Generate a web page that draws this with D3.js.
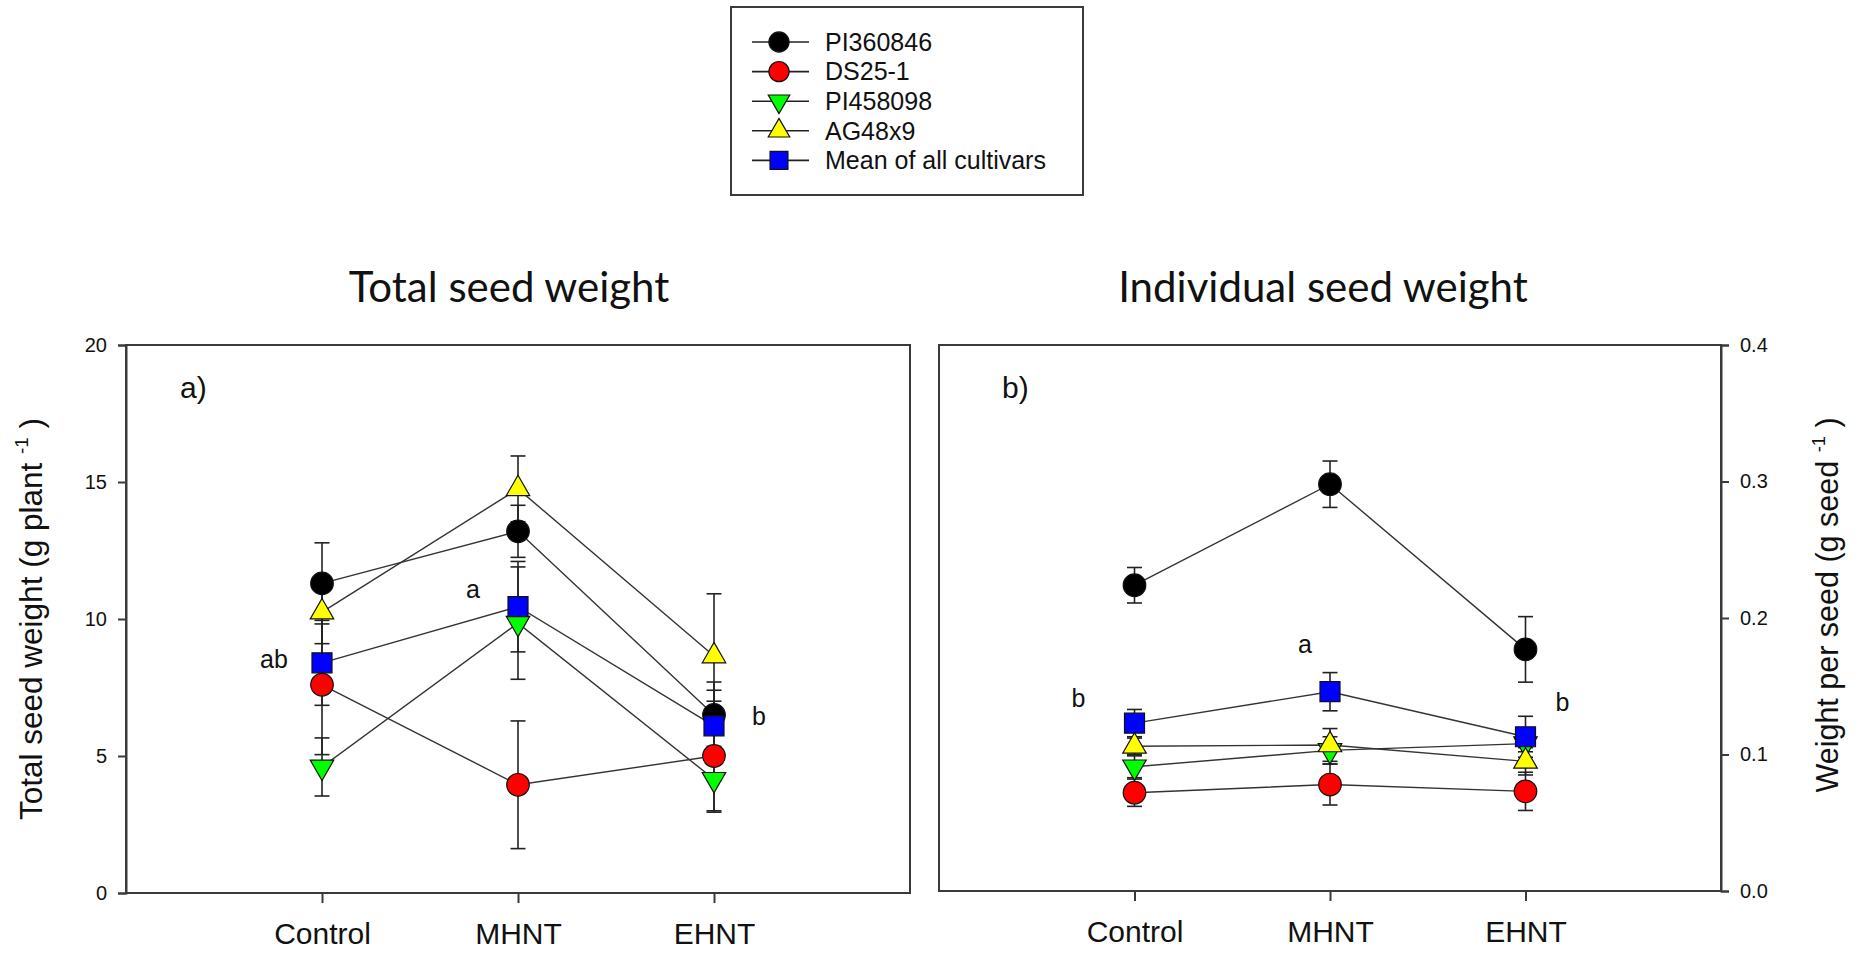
<!DOCTYPE html>
<html>
<head>
<meta charset="utf-8">
<script src="https://cdn.jsdelivr.net/npm/d3@7"></script>
<style>
  html, body { margin: 0; padding: 0; background: #fff; }
  svg { display: block; }
  text { font-family: "Liberation Sans", Arial, sans-serif; fill: #111; }
</style>
</head>
<body>
<svg id="chart" width="1870" height="955"></svg>
<script>
// Treatments on the x axis
const categories = ["Control", "MHNT", "EHNT"];

// Cultivars (last entry is the mean across cultivars)
const seriesNames = ["PI360846", "DS25-1", "PI458098", "AG48x9", "Mean of all cultivars"];
const seriesColors = ["#000000", "#ff0000", "#00ff00", "#ffff00", "#0000ff"];
const seriesSymbols = ["circle", "circle", "triangleDown", "triangleUp", "square"];

// Total seed weight (g plant-1), one row per cultivar, columns follow categories
const totalSeedWeight = [
  [11.3, 13.2, 6.5],
  [7.6, 3.95, 5.0],
  [4.6, 9.85, 4.15],
  [10.25, 14.75, 8.65],
  [8.4, 10.45, 6.1]
];
const totalSeedSE = [
  [1.48, 0.95, 1.2],
  [2.55, 2.33, 2.0],
  [1.06, 2.05, 1.2],
  [1.15, 1.2, 2.27],
  [1.55, 1.65, 1.3]
];

// Individual seed weight (g seed-1)
const seedWeight = [
  [0.224, 0.298, 0.177],
  [0.072, 0.078, 0.073],
  [0.091, 0.103, 0.108],
  [0.106, 0.107, 0.095],
  [0.123, 0.146, 0.113]
];
const seedSE = [
  [0.013, 0.017, 0.024],
  [0.010, 0.015, 0.014],
  [0.008, 0.010, 0.006],
  [0.006, 0.012, 0.010],
  [0.010, 0.014, 0.015]
];

// Axis ticks
const totalTicks = [0, 5, 10, 15, 20];
const seedTicks = [0.0, 0.1, 0.2, 0.3, 0.4];

// Mean-separation letters: [treatment index, letter, value used for vertical placement]
const totalLetters = [[0, "ab", 8.2], [1, "a", 10.77], [2, "b", 6.13]];
const seedLetters = [[0, "b", 0.1348], [1, "a", 0.1744], [2, "b", 0.1319]];

// Draw order of the series (back to front)
const drawOrder = [0, 2, 1, 3, 4];

const svg = d3.select("#chart");
svg.append("rect").attr("width", 1870).attr("height", 955).attr("fill", "#fff");

const AXIS = "#3a3a3a";

function symbolPath(kind) {
  if (kind === "circle") return d3.symbol(d3.symbolCircle, 400)();
  if (kind === "square") return d3.symbol(d3.symbolSquare, 400)();
  return d3.symbol(d3.symbolTriangle, 240)();
}

function drawMarker(g, kind, x, y, color) {
  g.append("path")
    .attr("d", symbolPath(kind))
    .attr("transform", `translate(${x},${y})` + (kind === "triangleDown" ? " rotate(180)" : ""))
    .attr("fill", color)
    .attr("stroke", "#111")
    .attr("stroke-width", 1.2);
}

function drawPanel(opts) {
  const { left, right, top, bottom, values, errors, ticks, tickFormat, yAxisSide, letters, letterOffsets, panelLabel, title, titleX } = opts;
  const x = d3.scaleLinear().domain([0, 4]).range([left, right]);
  const y = d3.scaleLinear().domain([ticks[0], ticks[ticks.length - 1]]).range([bottom, top]);
  const g = svg.append("g");

  // frame
  g.append("rect")
    .attr("x", left).attr("y", top)
    .attr("width", right - left).attr("height", bottom - top)
    .attr("fill", "none").attr("stroke", AXIS).attr("stroke-width", 2);

  // value axis
  const yAxis = (yAxisSide === "left" ? d3.axisLeft(y) : d3.axisRight(y))
    .tickValues(ticks).tickFormat(tickFormat).tickSize(8).tickPadding(11);
  const ya = g.append("g")
    .attr("transform", `translate(${yAxisSide === "left" ? left : right},0)`)
    .call(yAxis);
  ya.select(".domain").attr("stroke", AXIS).attr("stroke-width", 2);
  ya.selectAll(".tick line").attr("stroke", AXIS).attr("stroke-width", 2);
  ya.selectAll(".tick text").attr("font-size", 20).attr("font-family", "Liberation Sans, Arial, sans-serif").attr("fill", "#222");

  // category axis
  const xAxis = d3.axisBottom(x).tickValues([1, 2, 3]).tickFormat(d => categories[d - 1])
    .tickSize(10).tickPadding(20);
  const xa = g.append("g").attr("transform", `translate(0,${bottom})`).call(xAxis);
  xa.select(".domain").remove();
  xa.selectAll(".tick line").attr("stroke", AXIS).attr("stroke-width", 2);
  xa.selectAll(".tick text").attr("font-size", 30).attr("font-family", "Liberation Sans, Arial, sans-serif").attr("fill", "#111");

  // error bars
  drawOrder.forEach(s => {
    values[s].forEach((v, i) => {
      const cx = x(i + 1);
      const e = errors[s][i];
      const y1 = y(v + e), y2 = y(v - e);
      g.append("line").attr("x1", cx).attr("x2", cx).attr("y1", y1).attr("y2", y2)
        .attr("stroke", "#222").attr("stroke-width", 1.6);
      [y1, y2].forEach(yy => g.append("line")
        .attr("x1", cx - 7.5).attr("x2", cx + 7.5).attr("y1", yy).attr("y2", yy)
        .attr("stroke", "#222").attr("stroke-width", 1.6));
    });
  });

  // connecting lines
  const line = d3.line().x((d, i) => x(i + 1)).y(d => y(d));
  drawOrder.forEach(s => {
    g.append("path").attr("d", line(values[s]))
      .attr("fill", "none").attr("stroke", "#333").attr("stroke-width", 1.4);
  });

  // markers
  drawOrder.forEach(s => {
    values[s].forEach((v, i) => drawMarker(g, seriesSymbols[s], x(i + 1), y(v), seriesColors[s]));
  });

  // letters
  letters.forEach(([ci, txt, v], k) => {
    g.append("text")
      .attr("x", x(ci + 1) + letterOffsets[k]).attr("y", y(v))
      .attr("text-anchor", "middle").attr("font-size", 25)
      .text(txt);
  });

  // panel label
  g.append("text").attr("x", panelLabel.x).attr("y", 398)
    .attr("font-size", 30).text(panelLabel.text);

  // title
  svg.append("text").attr("x", titleX).attr("y", 302)
    .attr("text-anchor", "middle")
    .style("font-family", "Lato, 'Open Sans', sans-serif")
    .attr("font-size", 42)
    .text(title);

  return { x, y };
}

drawPanel({
  left: 126, right: 910, top: 345, bottom: 893,
  values: totalSeedWeight, errors: totalSeedSE,
  ticks: totalTicks, tickFormat: d3.format("d"),
  yAxisSide: "left",
  letters: totalLetters, letterOffsets: [-48, -45, 45],
  panelLabel: { x: 180, text: "a)" },
  title: "Total seed weight", titleX: 509
});

drawPanel({
  left: 939, right: 1721, top: 345, bottom: 891,
  values: seedWeight, errors: seedSE,
  ticks: seedTicks, tickFormat: d3.format(".1f"),
  yAxisSide: "right",
  letters: seedLetters, letterOffsets: [-56, -25, 37],
  panelLabel: { x: 1002, text: "b)" },
  title: "Individual seed weight", titleX: 1323
});

// axis titles with superscript exponent
function axisTitle(cx, cy, main, unit, size) {
  const t = svg.append("text")
    .attr("transform", `translate(${cx},${cy}) rotate(-90)`)
    .attr("text-anchor", "middle").attr("font-size", size);
  t.append("tspan").text(main + " (g " + unit + " ");
  t.append("tspan").attr("font-size", size * 0.6).attr("dy", -size * 0.43).text("-1");
  t.append("tspan").attr("dy", size * 0.43).text(" )");
}
axisTitle(42, 619, "Total seed weight", "plant", 31.5);
axisTitle(1838, 605, "Weight per seed", "seed", 30.5);

// legend
const lg = svg.append("g");
lg.append("rect").attr("x", 731).attr("y", 7).attr("width", 352).attr("height", 188)
  .attr("fill", "#fff").attr("stroke", AXIS).attr("stroke-width", 2);
seriesNames.forEach((name, i) => {
  const cy = 42 + i * 29.6;
  lg.append("line").attr("x1", 752).attr("x2", 809).attr("y1", cy).attr("y2", cy)
    .attr("stroke", "#222").attr("stroke-width", 1.6);
  lg.append("path")
    .attr("d", seriesSymbols[i] === "square" ? d3.symbol(d3.symbolSquare, 320)()
      : seriesSymbols[i] === "circle" ? d3.symbol(d3.symbolCircle, 320)()
      : d3.symbol(d3.symbolTriangle, 200)())
    .attr("transform", `translate(779,${cy})` + (seriesSymbols[i] === "triangleDown" ? " rotate(180)" : ""))
    .attr("fill", seriesColors[i]).attr("stroke", "#111").attr("stroke-width", 1.2);
  lg.append("text").attr("x", 825).attr("y", cy).attr("dy", "0.35em")
    .attr("font-size", 25).text(name);
});
</script>
</body>
</html>
